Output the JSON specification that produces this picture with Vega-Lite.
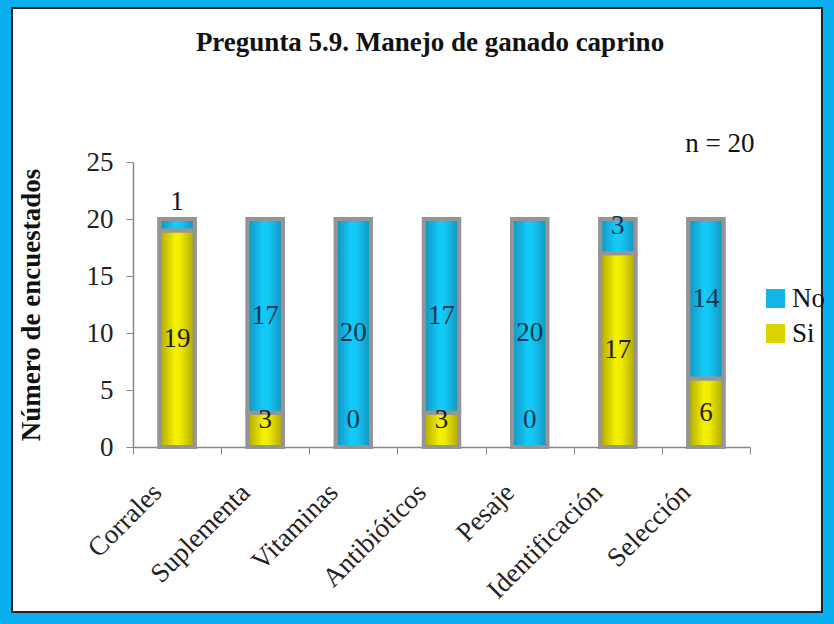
{
  "$schema": "https://vega.github.io/schema/vega-lite/v6.json",
  "width": 810,
  "height": 604,
  "autosize": {"type": "none"},
  "padding": {"left": 12, "top": 8, "right": 12, "bottom": 12},
  "background": "#0AAFEF",
  "config": {
    "view": {"fill": "white", "stroke": "#222222", "strokeWidth": 2},
    "font": "'Times New Roman', 'Liberation Serif', serif"
  },
  "title": {
    "text": "Pregunta 5.9. Manejo de ganado caprino",
    "font": "'Times New Roman', 'Liberation Serif', serif",
    "fontSize": 27,
    "fontWeight": "bold",
    "color": "#111111",
    "anchor": "middle",
    "frame": "group",
    "offset": -70,
    "dx": 13,
    "baseline": "alphabetic"
  },
  "data": {
    "values": [
      {"category": "Corrales", "series": "Si", "value": 19},
      {"category": "Corrales", "series": "No", "value": 1},
      {"category": "Suplementa", "series": "Si", "value": 3},
      {"category": "Suplementa", "series": "No", "value": 17},
      {"category": "Vitaminas", "series": "Si", "value": 0},
      {"category": "Vitaminas", "series": "No", "value": 20},
      {"category": "Antibióticos", "series": "Si", "value": 3},
      {"category": "Antibióticos", "series": "No", "value": 17},
      {"category": "Pesaje", "series": "Si", "value": 0},
      {"category": "Pesaje", "series": "No", "value": 20},
      {"category": "Identificación", "series": "Si", "value": 17},
      {"category": "Identificación", "series": "No", "value": 3},
      {"category": "Selección", "series": "Si", "value": 6},
      {"category": "Selección", "series": "No", "value": 14}
    ]
  },
  "encoding": {
    "x": {
      "field": "category",
      "type": "nominal",
      "sort": null,
      "scale": {"range": [121, 738], "paddingInner": 0, "paddingOuter": 0},
      "axis": {
        "title": null,
        "labelFont": "'Times New Roman', 'Liberation Serif', serif",
        "labelFontSize": 27,
        "labelColor": "#222222",
        "labelAngle": -45,
        "labelAlign": "right",
        "labelBaseline": "middle",
        "labelPadding": 34,
        "labelOffset": -20,
        "labelOverlap": false,
        "labelBound": false,
        "tickBand": "extent",
        "tickSize": 7,
        "tickColor": "#888888",
        "domainColor": "#888888",
        "domainWidth": 1.5,
        "offset": -165
      }
    }
  },
  "layer": [
    {
      "mark": {"type": "bar", "width": {"band": 0.4}, "stroke": "#959595", "strokeWidth": 4},
      "encoding": {
        "y": {
          "field": "value",
          "type": "quantitative",
          "stack": "zero",
          "scale": {"domain": [0, 25], "range": [439, 154], "nice": false},
          "axis": {
            "title": "Número de encuestados",
            "titleFont": "'Times New Roman', 'Liberation Serif', serif",
            "titleFontSize": 27,
            "titleFontWeight": "bold",
            "titleColor": "#111111",
            "titleX": -102,
            "titleBaseline": "middle",
            "values": [0, 5, 10, 15, 20, 25],
            "labelFont": "'Times New Roman', 'Liberation Serif', serif",
            "labelFontSize": 27,
            "labelColor": "#222222",
            "labelPadding": 13,
            "tickSize": 7,
            "tickColor": "#888888",
            "domainColor": "#888888",
            "domainWidth": 1.5,
            "grid": false,
            "offset": -121
          }
        },
        "color": {
          "field": "series",
          "type": "nominal",
          "scale": {"domain": ["No", "Si"], "range": ["#14B4E6", "#DAD400"]},
          "legend": {
            "title": null,
            "orient": "none",
            "legendX": 750,
            "legendY": 277,
            "symbolType": "square",
            "symbolSize": 361,
            "symbolStrokeWidth": 0,
            "labelFont": "'Times New Roman', 'Liberation Serif', serif",
            "labelFontSize": 27,
            "labelColor": "#111111",
            "labelOffset": 3,
            "rowPadding": 7,
            "padding": 0
          }
        },
        "order": {"field": "series", "sort": "descending"}
      }
    },
    {
      "mark": {"type": "bar", "width": {"band": 0.4}, "stroke": "#959595", "strokeWidth": 4},
      "encoding": {
        "y": {"field": "value", "type": "quantitative", "stack": "zero", "title": "Número de encuestados"},
        "detail": {"field": "series", "type": "nominal"},
        "order": {"field": "series", "sort": "descending"},
        "color": {
          "condition": {
            "test": "datum.series == 'No'",
            "value": {"gradient": "linear", "x1": 0, "y1": 0, "x2": 1, "y2": 0, "stops": [
              {"offset": 0, "color": "#1690BC"},
              {"offset": 0.45, "color": "#12CCFA"},
              {"offset": 0.6, "color": "#12C6F4"},
              {"offset": 1, "color": "#1690BC"}
            ]}
          },
          "value": {"gradient": "linear", "x1": 0, "y1": 0, "x2": 1, "y2": 0, "stops": [
            {"offset": 0, "color": "#ADA600"},
            {"offset": 0.45, "color": "#F6F200"},
            {"offset": 0.6, "color": "#EFEA00"},
            {"offset": 1, "color": "#ADA600"}
          ]}
        }
      }
    },
    {
      "mark": {"type": "text", "font": "'Times New Roman', 'Liberation Serif', serif", "fontSize": 27, "baseline": "middle"},
      "encoding": {
        "y": {"field": "value", "type": "quantitative", "stack": "zero", "bandPosition": 0.5, "title": "Número de encuestados"},
        "detail": {"field": "series", "type": "nominal"},
        "order": {"field": "series", "sort": "descending"},
        "text": {"condition": {"test": "datum.value < 5", "value": ""}, "field": "value", "type": "quantitative"},
        "color": {"condition": {"test": "datum.series == 'No'", "value": "#0E3552"}, "value": "#1E1E0A"}
      }
    },
    {
      "transform": [{"filter": "datum.series == 'Si' && datum.value < 5"}],
      "mark": {"type": "text", "font": "'Times New Roman', 'Liberation Serif', serif", "fontSize": 27, "baseline": "middle"},
      "encoding": {
        "y": {"datum": 2.4, "type": "quantitative"},
        "text": {"field": "value", "type": "quantitative"},
        "color": {"condition": {"test": "datum.value == 0", "value": "#0E3552"}, "value": "#1E1E0A"}
      }
    },
    {
      "transform": [{"filter": "datum.series == 'No' && datum.value < 2"}],
      "mark": {"type": "text", "font": "'Times New Roman', 'Liberation Serif', serif", "fontSize": 27, "baseline": "middle", "color": "#111111"},
      "encoding": {
        "y": {"datum": 21.5, "type": "quantitative"},
        "text": {"field": "value", "type": "quantitative"}
      }
    },
    {
      "transform": [{"filter": "datum.series == 'No' && datum.value >= 2 && datum.value < 5"}],
      "mark": {"type": "text", "font": "'Times New Roman', 'Liberation Serif', serif", "fontSize": 27, "baseline": "middle", "color": "#0E3552"},
      "encoding": {
        "y": {"datum": 19.4, "type": "quantitative"},
        "text": {"field": "value", "type": "quantitative"}
      }
    },
    {
      "data": {"values": [{"note": "n = 20"}]},
      "mark": {"type": "text", "font": "'Times New Roman', 'Liberation Serif', serif", "fontSize": 27, "baseline": "middle", "dx": 14, "color": "#111111"},
      "encoding": {
        "x": {"datum": "Selección", "type": "nominal"},
        "y": {"datum": 26.6, "type": "quantitative"},
        "text": {"field": "note"}
      }
    }
  ]
}
